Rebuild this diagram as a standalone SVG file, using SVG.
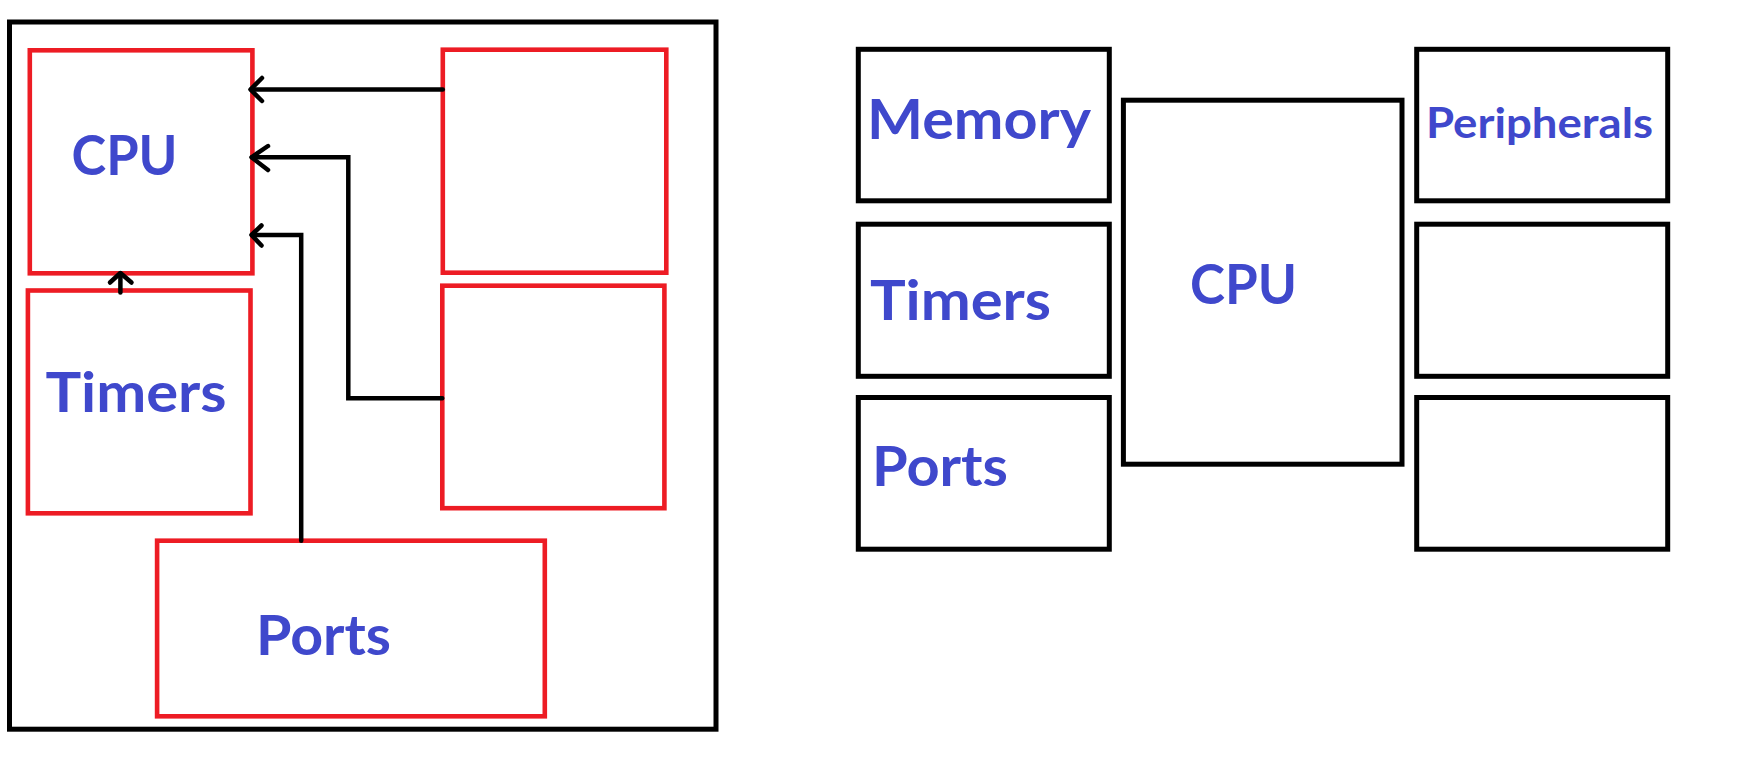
<svg xmlns="http://www.w3.org/2000/svg" width="1746" height="759" viewBox="0 0 1746 759">
<style>
.bg{fill:#ffffff}
.frame{fill:none;stroke:#000;stroke-width:5}
.red{fill:#fff;stroke:#ED1C24;stroke-width:4.6}
.blk{fill:#fff;stroke:#000;stroke-width:5}
.lbl{font-family:Lato,"Open Sans","Liberation Sans",sans-serif;font-weight:700;fill:#3F48CC;font-size:56px}
.small{font-size:42px}
.wire{fill:none;stroke:#000;stroke-width:4.5;stroke-linecap:round;stroke-linejoin:miter}
.head{fill:none;stroke:#000;stroke-width:4.5;stroke-linecap:round;stroke-linejoin:round}
</style>
<rect class="bg" x="0" y="0" width="1746" height="759"/>
<g id="left-panel">
<rect class="frame" x="9.5" y="22" width="706.5" height="707.2"/>
</g>
<g id="l-cpu"><rect class="red" x="29.8" y="50.3" width="222.6" height="223"/><text class="lbl" x="71.5" y="175" textLength="106" lengthAdjust="spacingAndGlyphs">CPU</text></g>
<g id="l-box-top"><rect class="red" x="442.8" y="49.7" width="223.5" height="223"/></g>
<g id="l-box-mid"><rect class="red" x="442.3" y="285.7" width="222.1" height="222.5"/></g>
<g id="l-timers"><rect class="red" x="27.9" y="290.5" width="222.6" height="222.8"/><text class="lbl" x="45.5" y="412" textLength="181" lengthAdjust="spacingAndGlyphs">Timers</text></g>
<g id="l-ports"><rect class="red" x="157.1" y="540.7" width="387.7" height="175.6"/><text class="lbl" x="256" y="655" textLength="135" lengthAdjust="spacingAndGlyphs">Ports</text></g>
<g id="connectors">
<path class="wire" d="M442.8 89.5 H251"/>
<path class="head" d="M262 78 L250.5 89.5 L262 101"/>
<path class="wire" d="M442.3 398.3 H348.3 V157.3 H252"/>
<path class="head" d="M268 146 L251.5 157.3 L268 170"/>
<path class="wire" d="M301.2 540.7 V235 H252"/>
<path class="head" d="M261.5 225.5 L251.5 235 L261.5 245.5"/>
<path class="wire" d="M120.4 292.5 V273.5"/>
<path class="head" d="M110 282.5 L120.4 273 L131.5 282.5"/>
</g>
<g id="r-memory"><rect class="blk" x="858.3" y="49.3" width="251" height="151.5"/><text class="lbl" x="867" y="138.8" textLength="224" lengthAdjust="spacingAndGlyphs">Memory</text></g>
<g id="r-timers"><rect class="blk" x="858.3" y="224.2" width="251" height="152.1"/><text class="lbl" x="870" y="320" textLength="181" lengthAdjust="spacingAndGlyphs">Timers</text></g>
<g id="r-ports"><rect class="blk" x="858.3" y="397.5" width="251" height="151.7"/><text class="lbl" x="872" y="486" textLength="136" lengthAdjust="spacingAndGlyphs">Ports</text></g>
<g id="r-cpu"><rect class="blk" x="1123.4" y="100.2" width="278.6" height="364"/><text class="lbl" x="1190" y="304.4" textLength="107" lengthAdjust="spacingAndGlyphs">CPU</text></g>
<g id="r-peripherals"><rect class="blk" x="1416.7" y="49.3" width="251" height="151.5"/><text class="lbl small" x="1426" y="138" textLength="227" lengthAdjust="spacingAndGlyphs">Peripherals</text></g>
<g id="r-box2"><rect class="blk" x="1416.7" y="224.2" width="251" height="152.1"/></g>
<g id="r-box3"><rect class="blk" x="1416.7" y="397.5" width="251" height="151.7"/></g>
</svg>
